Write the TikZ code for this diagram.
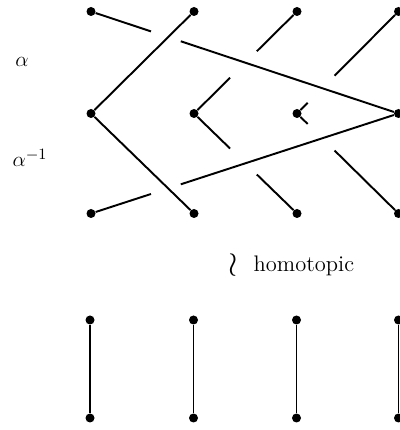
\documentclass[tikz,border=0pt]{standalone}
\usepackage{amsmath}
\usetikzlibrary{calc}

\begin{document}
\begin{tikzpicture}[
  dot/.style    = {circle, fill=black, inner sep=0pt, minimum size=0.18cm},
  strand/.style = {line width=1.1pt},
  lbl/.style    = {font=\fontsize{12.8}{15}\selectfont, anchor=base},
]

\useasboundingbox (0,0) rectangle (8,8.6);

% braid: three rows of four points
\foreach \i/\cx in {1/1.82, 2/3.88, 3/5.94, 4/7.97}{
  \node[dot] (t\i) at (\cx, 8.37) {};
  \node[dot] (m\i) at (\cx, 6.33) {};
  \node[dot] (b\i) at (\cx, 4.33) {};
}

\draw[strand] (m1) -- (t2);
\draw[strand] (m1) -- (b2);

% under-strands, broken at each crossing
\foreach \a/\b/\p/\q in {t1/m4/0.195/0.292, b1/m4/0.195/0.292,
                         t3/m2/0.39/0.65,   m2/b3/0.35/0.61,
                         m3/t4/0.105/0.37,  m3/b4/0.105/0.37}{
  \draw[strand] (\a) -- ($(\a)!\p!(\b)$);
  \draw[strand] ($(\a)!\q!(\b)$) -- (\b);
}

\node[lbl] (alpha)    at (0.44, 7.26) {$\alpha$};
\node[lbl] (alphainv) at (0.60, 5.26) {$\alpha^{-1}$};

\node[lbl, anchor=center, scale=1.6] (wr) at (4.67, 3.30) {$\wr$};
\node[lbl, anchor=base west] (hom) at (4.95, 3.16) {homotopic};

% trivial braid
\foreach \i/\cx in {1/1.80, 2/3.87, 3/5.93, 4/7.97}{
  \node[dot] (u\i) at (\cx, 2.20) {};
  \node[dot] (l\i) at (\cx, 0.24) {};
  \draw[strand] (u\i) -- (l\i);
}

\end{tikzpicture}
\end{document}
